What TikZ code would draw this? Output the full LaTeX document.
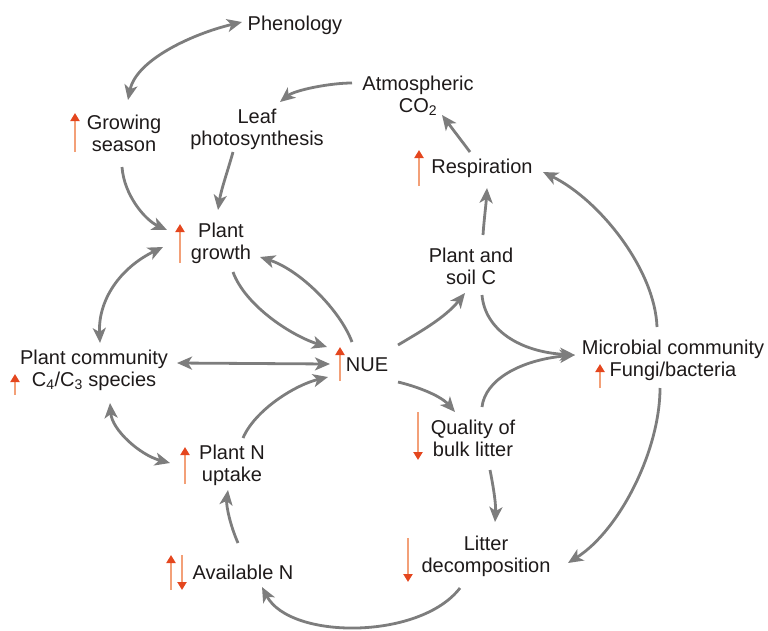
\documentclass[tikz,border=0pt]{standalone}
\usepackage{fontspec}
\setmainfont{Liberation Sans}
\usetikzlibrary{arrows.meta}
\definecolor{conngray}{RGB}{125,125,125}
\definecolor{upshaft}{RGB}{243,160,120}
\definecolor{uphead}{RGB}{228,70,30}
\definecolor{txt}{RGB}{30,26,26}
\begin{document}
\begin{tikzpicture}[x=1pt,y=-1pt,
  lbl/.style={font=\fontsize{20}{22}\selectfont, text=txt, align=center, inner sep=0pt},
  conn/.style={draw=conngray, line width=2.8pt, -{Stealth[length=15pt,width=13pt,inset=4pt]}},
  biconn/.style={draw=conngray, line width=2.8pt, {Stealth[length=15pt,width=13pt,inset=4pt]}-{Stealth[length=15pt,width=13pt,inset=4pt]}},
  trend/.style={draw=upshaft, line width=2.4pt, -{Triangle[length=8pt,width=9pt,color=uphead]}}
]
\useasboundingbox (0,0) rectangle (768,630);

% nodes
\node[lbl] (phen) at (295,25) {Phenology};
\node[lbl] (grow) at (124,133) {Growing\\season};
\node[lbl] (leaf) at (257,129) {Leaf\\photosynthesis};
\node[lbl] (atm)  at (418,96)  {Atmospheric\\CO\textsubscript{2}};
\node[lbl] (resp) at (482,168) {Respiration};
\node[lbl] (pgr)  at (221,243) {Plant\\growth};
\node[lbl] (psc)  at (471,266) {Plant and\\soil C};
\node[lbl] (pcom) at (94,370)  {Plant community\\C\textsubscript{4}/C\textsubscript{3} species};
\node[lbl] (nue)  at (367,365) {NUE};
\node[lbl] (mic)  at (673,360) {Microbial community\\Fungi/bacteria};
\node[lbl] (qual) at (473,438) {Quality of\\bulk litter};
\node[lbl] (pnu)  at (232,465) {Plant N\\uptake};
\node[lbl] (avn)  at (243,572) {Available N};
\node[lbl] (litt) at (486,556) {Litter\\decomposition};

% trend marks
\draw[trend] (75,152) -- (75,113);
\draw[trend] (419,186) -- (419,150);
\draw[trend] (180,263) -- (180,224);
\draw[trend] (340,381) -- (340,347);
\draw[trend] (15,395) -- (15,374);
\draw[trend] (600,388) -- (600,364);
\draw[trend] (185,484) -- (185,447);
\draw[trend] (171,590) -- (171,555);
\draw[trend] (182,555) -- (182,590);
\draw[trend] (418,412) -- (418,460);
\draw[trend] (408,538) -- (408,582);

% connectors
\draw[biconn] ([shift={(4,-33)}]grow.center) .. controls (136,60) and (192,34) .. ([shift={(-53,-3)}]phen.center);
\draw[conn] ([shift={(-66,-13)}]atm.center) .. controls (330,83) and (295,90) .. ([shift={(23,-27)}]leaf.center);
\draw[conn] ([shift={(-24,23)}]leaf.center) .. controls (228,170) and (221,190) .. ([shift={(-3,-33)}]pgr.center);
\draw[conn] ([shift={(-2,34)}]grow.center) .. controls (124,195) and (145,220) .. ([shift={(-54,-13)}]pgr.center);
\draw[biconn] ([shift={(6,-27)}]pcom.center) .. controls (98,300) and (120,268) .. ([shift={(-58,4)}]pgr.center);
\draw[conn] ([shift={(12,29)}]pgr.center) .. controls (245,305) and (290,335) .. ([shift={(-40,-18)}]nue.center);
\draw[conn] ([shift={(-15,-23)}]nue.center) .. controls (340,310) and (300,270) .. ([shift={(39,14)}]pgr.center);
\draw[biconn] ([shift={(83,-7)}]pcom.center) -- ([shift={(-37,-1)}]nue.center);
\draw[conn] ([shift={(11,-27)}]pnu.center) .. controls (255,410) and (295,385) .. ([shift={(-39,12)}]nue.center);
\draw[biconn] ([shift={(16,33)}]pcom.center) .. controls (112,430) and (140,455) .. ([shift={(-62,-2)}]pnu.center);
\draw[conn] ([shift={(-5,-29)}]avn.center) .. controls (230,525) and (226,505) .. ([shift={(-4,25)}]pnu.center);
\draw[conn] ([shift={(-26,32)}]litt.center) .. controls (420,640) and (290,640) .. ([shift={(19,15)}]avn.center);
\draw[conn] ([shift={(17,32)}]qual.center) .. controls (494,490) and (496,505) .. ([shift={(9,-34)}]litt.center);
\draw[conn] ([shift={(31,17)}]nue.center) .. controls (415,386) and (440,395) .. ([shift={(-18,-26)}]qual.center);
\draw[conn] ([shift={(31,-20)}]nue.center) .. controls (418,333) and (445,318) .. ([shift={(-6,27)}]psc.center);
\draw[conn] ([shift={(11,29)}]psc.center) .. controls (485,330) and (520,352) .. ([shift={(-98,-5)}]mic.center);
\draw[conn] ([shift={(9,-31)}]qual.center) .. controls (485,380) and (520,360) .. ([shift={(-98,-5)}]mic.center);
\draw[conn] ([shift={(12,-31)}]psc.center) .. controls (484,220) and (486,205) .. ([shift={(5,20)}]resp.center);
\draw[conn] ([shift={(-12,-16)}]resp.center) -- ([shift={(24,19)}]atm.center);
\draw[conn] ([shift={(-16,-33)}]mic.center) .. controls (655,270) and (600,200) .. ([shift={(61,4)}]resp.center);
\draw[conn] ([shift={(-13,28)}]mic.center) .. controls (660,450) and (620,530) .. ([shift={(82,7)}]litt.center);
\end{tikzpicture}
\end{document}
